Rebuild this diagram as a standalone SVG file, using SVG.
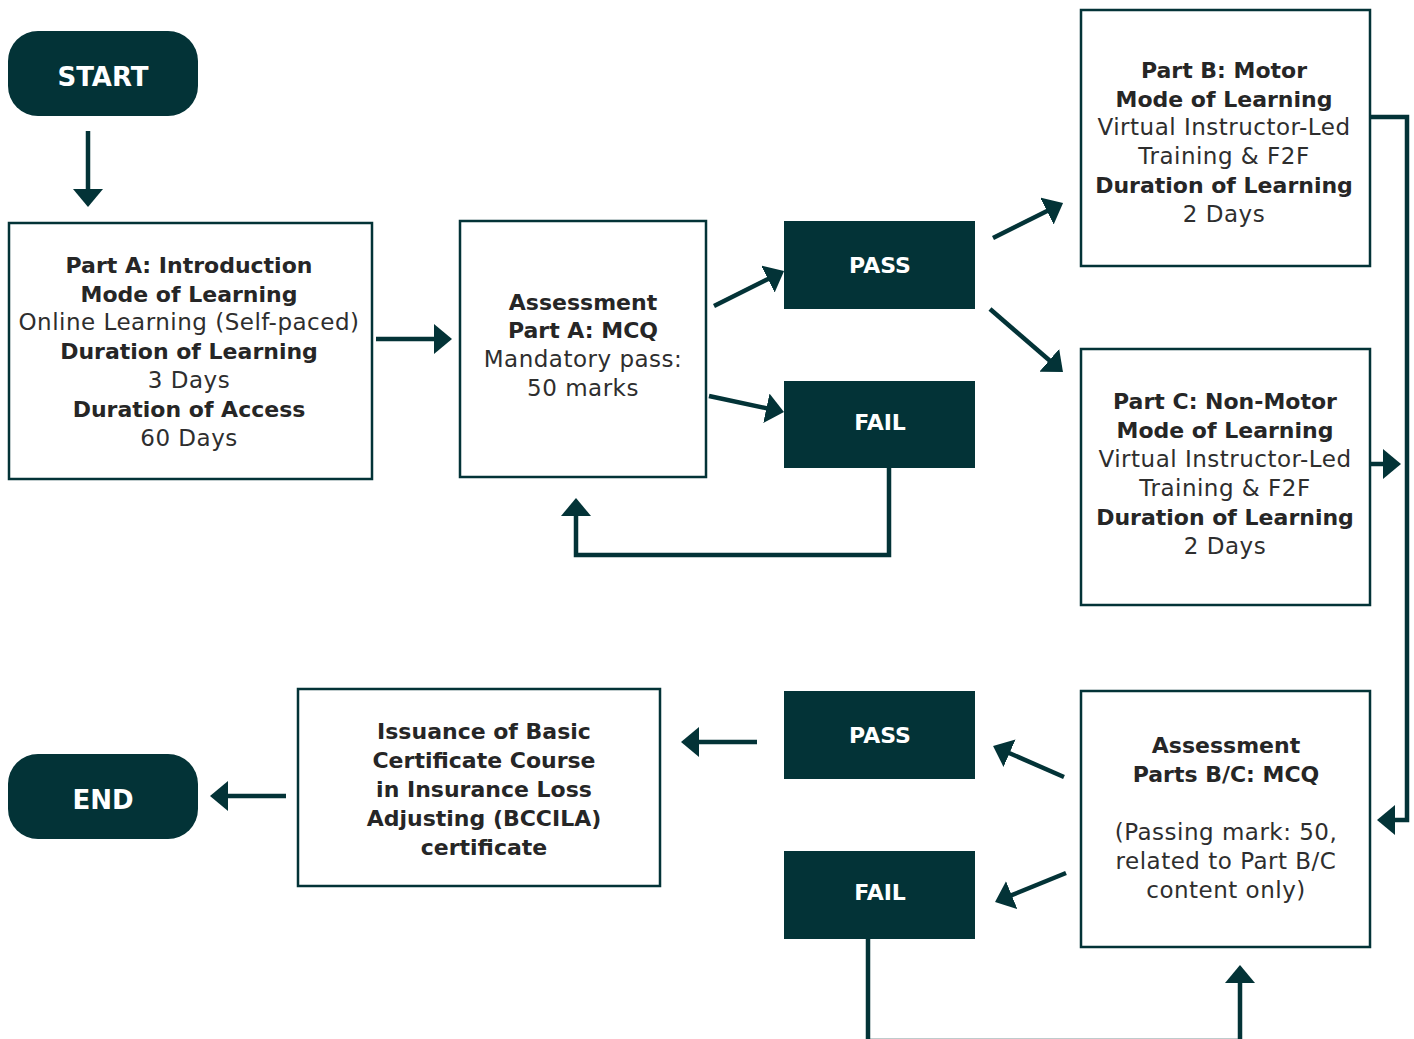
<svg xmlns="http://www.w3.org/2000/svg" width="1414" height="1039" viewBox="0 0 1414 1039">
<defs>
<style>
.term{fill:#033337}
.dark{fill:#033337}
.box{fill:#fff;stroke:#033337;stroke-width:2.5}
.wt{fill:#fff;font-family:"DejaVu Sans",sans-serif;text-anchor:middle}
.bt{fill:#262626;font-family:"DejaVu Sans",sans-serif;font-weight:bold;font-size:22px;text-anchor:middle}
.rt{fill:#2e2e2e;font-family:"DejaVu Sans",sans-serif;font-weight:normal;font-size:23px;letter-spacing:0.5px;text-anchor:middle}
.con{fill:none;stroke:#033337;stroke-width:4.5;stroke-linecap:butt;marker-end:url(#ah)}
</style>
<marker id="ah" markerUnits="userSpaceOnUse" markerWidth="18" markerHeight="30" refX="8" refY="15" orient="auto" viewBox="0 0 18 30">
<path d="M0,0 L18,15 L0,30 z" fill="#033337"/>
</marker>
</defs>
<rect width="1414" height="1039" fill="#fff"/>

<g id="connectors">
<line class="con" x1="88" y1="131" x2="88" y2="197"/>
<line class="con" x1="376" y1="339" x2="442" y2="339"/>
<line class="con" x1="714" y1="306" x2="775.1" y2="275.5"/>
<line class="con" x1="709" y1="396" x2="774.2" y2="409.9"/>
<line class="con" x1="993" y1="238" x2="1054.1" y2="207.5"/>
<line class="con" x1="990" y1="309" x2="1055.4" y2="365.5"/>
<path class="con" d="M889,468 V555 H576 V508"/>
<line class="con" x1="1370" y1="464" x2="1391" y2="464"/>
<path class="con" d="M1370,117 H1407 V820 H1387"/>
<line class="con" x1="1064" y1="777" x2="1002.2" y2="750"/>
<line class="con" x1="1066" y1="873" x2="1004.3" y2="898.2"/>
<line class="con" x1="757" y1="742" x2="691" y2="742"/>
<line class="con" x1="286" y1="796" x2="220" y2="796"/>
<path class="con" d="M868,939 V1041 H1240 V975"/>
</g>

<g id="start">
<rect class="term" x="8" y="31" width="190" height="85" rx="30"/>
<text class="wt" x="103" y="86" font-size="26" font-weight="bold">START</text>
</g>

<g id="partA">
<rect class="box" x="9" y="223" width="363" height="256"/>
<text class="bt" x="189" y="273">Part A: Introduction</text>
<text class="bt" x="189" y="302">Mode of Learning</text>
<text class="rt" x="189" y="330">Online Learning (Self-paced)</text>
<text class="bt" x="189" y="359">Duration of Learning</text>
<text class="rt" x="189" y="388">3 Days</text>
<text class="bt" x="189" y="417">Duration of Access</text>
<text class="rt" x="189" y="446">60 Days</text>
</g>

<g id="assessA">
<rect class="box" x="460" y="221" width="246" height="256"/>
<text class="bt" x="583" y="310">Assessment</text>
<text class="bt" x="583" y="338">Part A: MCQ</text>
<text class="rt" x="583" y="367">Mandatory pass:</text>
<text class="rt" x="583" y="396">50 marks</text>
</g>

<g id="passA">
<rect class="dark" x="784" y="221" width="191" height="88"/>
<text class="wt" x="880" y="273" font-size="22" font-weight="bold">PASS</text>
</g>

<g id="failA">
<rect class="dark" x="784" y="381" width="191" height="87"/>
<text class="wt" x="880" y="430" font-size="22" font-weight="bold">FAIL</text>
</g>

<g id="partB">
<rect class="box" x="1081" y="10" width="289" height="256"/>
<text class="bt" x="1224" y="78">Part B: Motor</text>
<text class="bt" x="1224" y="107">Mode of Learning</text>
<text class="rt" x="1224" y="135">Virtual Instructor-Led</text>
<text class="rt" x="1224" y="164">Training &amp; F2F</text>
<text class="bt" x="1224" y="193">Duration of Learning</text>
<text class="rt" x="1224" y="222">2 Days</text>
</g>

<g id="partC">
<rect class="box" x="1081" y="349" width="289" height="256"/>
<text class="bt" x="1225" y="409">Part C: Non-Motor</text>
<text class="bt" x="1225" y="438">Mode of Learning</text>
<text class="rt" x="1225" y="467">Virtual Instructor-Led</text>
<text class="rt" x="1225" y="496">Training &amp; F2F</text>
<text class="bt" x="1225" y="525">Duration of Learning</text>
<text class="rt" x="1225" y="554">2 Days</text>
</g>

<g id="assessBC">
<rect class="box" x="1081" y="691" width="289" height="256"/>
<text class="bt" x="1226" y="753">Assessment</text>
<text class="bt" x="1226" y="782">Parts B/C: MCQ</text>
<text class="rt" x="1226" y="840">(Passing mark: 50,</text>
<text class="rt" x="1226" y="869">related to Part B/C</text>
<text class="rt" x="1226" y="898">content only)</text>
</g>

<g id="passBC">
<rect class="dark" x="784" y="691" width="191" height="88"/>
<text class="wt" x="880" y="743" font-size="22" font-weight="bold">PASS</text>
</g>

<g id="failBC">
<rect class="dark" x="784" y="851" width="191" height="88"/>
<text class="wt" x="880" y="900" font-size="22" font-weight="bold">FAIL</text>
</g>

<g id="certificate">
<rect class="box" x="298" y="689" width="362" height="197"/>
<text class="bt" x="484" y="739">Issuance of Basic</text>
<text class="bt" x="484" y="768">Certificate Course</text>
<text class="bt" x="484" y="797">in Insurance Loss</text>
<text class="bt" x="484" y="826">Adjusting (BCCILA)</text>
<text class="bt" x="484" y="855">certificate</text>
</g>

<g id="end">
<rect class="term" x="8" y="754" width="190" height="85" rx="30"/>
<text class="wt" x="103" y="809" font-size="26" font-weight="bold">END</text>
</g>
</svg>
